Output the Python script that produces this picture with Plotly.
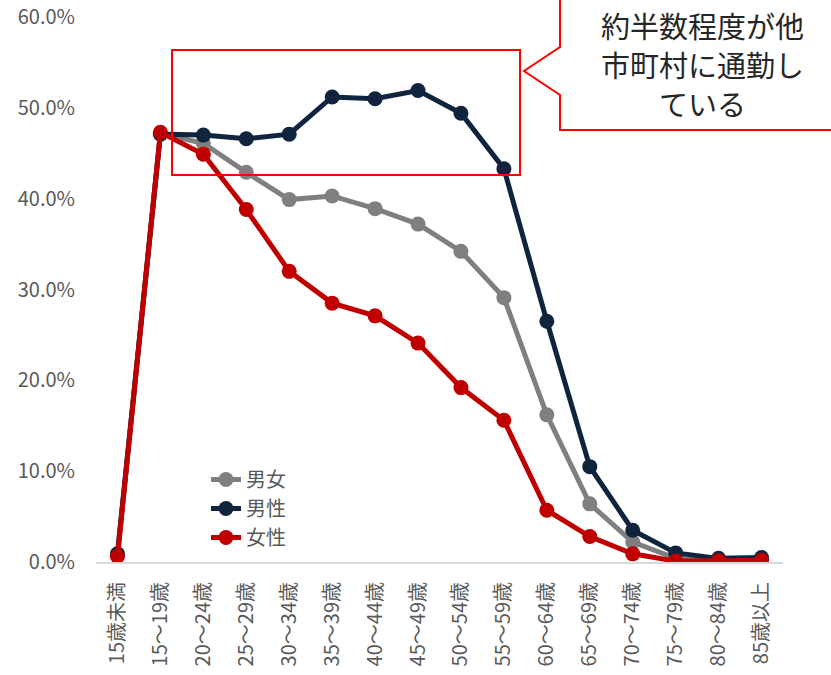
import plotly.graph_objects as go

categories = ["15歳未満", "15～19歳", "20～24歳", "25～29歳", "30～34歳", "35～39歳",
              "40～44歳", "45～49歳", "50～54歳", "55～59歳", "60～64歳", "65～69歳",
              "70～74歳", "75～79歳", "80～84歳", "85歳以上"]
both = [0.8, 47.2, 46.1, 42.9, 39.9, 40.3, 38.9, 37.2, 34.2, 29.1, 16.2, 6.4, 2.2, 0.4, 0.2, 0.3]
male = [0.9, 47.1, 47.0, 46.6, 47.1, 51.2, 51.0, 51.9, 49.4, 43.3, 26.5, 10.5, 3.5, 1.0, 0.4, 0.5]
female = [0.6, 47.3, 44.9, 38.8, 32.0, 28.5, 27.1, 24.1, 19.2, 15.6, 5.7, 2.8, 0.9, 0.1, 0.15, 0.2]
series_names = ["男女", "男性", "女性"]
series_colors = ["#7f7f7f", "#10243e", "#c00000"]
yticks = [0, 10, 20, 30, 40, 50, 60]
callout_lines = ["約半数程度が他", "市町村に通勤し", "ている"]

FONT = "Noto Sans CJK JP"
W, H = 831, 675
L, R, T, B = 96, 48, 17, 113
pw, ph = W - L - R, H - T - B

def px(x):
    return (x - L) / pw

def py(y):
    return (H - B - y) / ph

fig = go.Figure()
for name, vals, col in zip(series_names, [both, male, female], series_colors):
    fig.add_trace(go.Scatter(
        x=list(range(len(categories))), y=[v / 100 for v in vals], name=name,
        mode="lines+markers", line=dict(color=col, width=5),
        marker=dict(color=col, size=15),
    ))

# red highlight rectangle
fig.add_shape(type="rect", xref="paper", yref="paper",
              x0=px(172), x1=px(520), y0=py(175), y1=py(50),
              line=dict(color="#ff0000", width=2), fillcolor="rgba(0,0,0,0)")
# callout
path = (f"M {px(560)},{py(-10)} L {px(560)},{py(47)} L {px(524)},{py(71)} "
        f"L {px(560)},{py(95)} L {px(560)},{py(130)} L {px(840)},{py(130)}")
fig.add_shape(type="path", xref="paper", yref="paper", path=path,
              line=dict(color="#ff0000", width=2), fillcolor="rgba(0,0,0,0)")
for i, line in enumerate(callout_lines):
    fig.add_annotation(xref="paper", yref="paper", x=px(702), y=py(25 + 39 * i),
                       xanchor="center", yanchor="middle", borderpad=0,
                       text=line, showarrow=False, align="center",
                       font=dict(family=FONT, size=29, color="#262626"))

fig.update_layout(
    width=W, height=H, margin=dict(l=L, r=R, t=T, b=B, autoexpand=False),
    paper_bgcolor="white", plot_bgcolor="white",
    font=dict(family=FONT, color="#595959", size=20),
    showlegend=True,
    legend=dict(x=px(206), y=py(460), xanchor="left", yanchor="top",
                bgcolor="rgba(0,0,0,0)", font=dict(size=20, color="#595959"),
                tracegroupgap=0),
    xaxis=dict(range=[-0.5, len(categories) - 0.5], tickmode="array",
               tickvals=list(range(len(categories))), ticktext=categories,
               tickangle=-90, showgrid=False, zeroline=False, showline=True,
               linecolor="#d9d9d9", linewidth=2, ticks="", automargin=False,
               ticklabelstandoff=10,
               tickfont=dict(size=20, color="#595959")),
    yaxis=dict(range=[0, 0.6], tickvals=[v / 100 for v in yticks], tickformat=".1%",
               showgrid=False, zeroline=False, showline=False, ticks="",
               automargin=False, ticklabelstandoff=20,
               tickfont=dict(size=20, color="#595959")),
)
fig.write_html("out.html")
